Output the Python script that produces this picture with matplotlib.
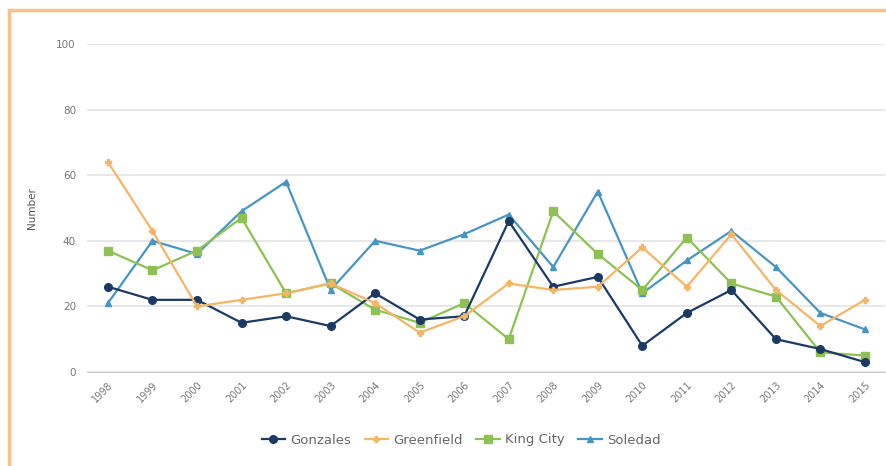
import matplotlib
matplotlib.use("Agg")
import matplotlib.pyplot as plt
from matplotlib.patches import Rectangle
from matplotlib.lines import Line2D

years = list(range(1998, 2016))
gonzales = [26, 22, 22, 15, 17, 14, 24, 16, 17, 46, 26, 29, 8, 18, 25, 10, 7, 3]
greenfield = [64, 43, 20, 22, 24, 27, 21, 12, 17, 27, 25, 26, 38, 26, 42, 25, 14, 22]
king_city = [37, 31, 37, 47, 24, 27, 19, 15, 21, 10, 49, 36, 25, 41, 27, 23, 6, 5]
soledad = [21, 40, 36, 49, 58, 25, 40, 37, 42, 48, 32, 55, 24, 34, 43, 32, 18, 13]
series_names = ["Gonzales", "Greenfield", "King City", "Soledad"]
y_ticks = [0, 20, 40, 60, 80, 100]

colors = ["#1b3a66", "#f5b565", "#8dc153", "#4596c4"]
markers = ["o", "P", "s", "^"]
msizes = [5.5, 4, 5.5, 5]

fig = plt.figure(figsize=(8.87, 4.66), dpi=100)
ax = fig.add_axes([87/887, 1-372/466, (885-87)/887, (372-44)/466])

data = [gonzales, greenfield, king_city, soledad]
zorders = [3, 4, 2, 1]
for name, vals, c, m, ms, z in zip(series_names, data, colors, markers, msizes, zorders):
    ax.plot(years, vals, color=c, marker=m, markersize=ms, linewidth=1.6,
            label=name, zorder=z + 2)

ax.set_xlim(1997.53, 2015.45)
ax.set_ylim(0, 100)
ax.set_yticks(y_ticks)
ax.set_xticks(years)
ax.set_xticklabels([str(y) for y in years], rotation=45, ha="right",
                   rotation_mode="anchor", fontsize=7, color="#777777")
ax.tick_params(axis="y", labelsize=7.5, colors="#777777", length=0, pad=8)
ax.tick_params(axis="x", length=0, pad=6)
ax.grid(axis="y", color="#e3e3e3", linewidth=1.2)
ax.set_axisbelow(True)
for s in ["top", "right", "left"]:
    ax.spines[s].set_visible(False)
ax.spines["bottom"].set_color("#cccccc")
ax.set_ylabel("Number", fontsize=7.5, color="#555555", labelpad=14)

handles = [Line2D([0], [0], color=c, marker=m, markersize=ms, linewidth=1.6)
           for c, m, ms in zip(colors, markers, msizes)]
fig.legend(handles, series_names, loc="center", bbox_to_anchor=(0.52, 1-440/466),
           ncol=4, frameon=False, fontsize=9.5, handlelength=1.8,
           columnspacing=1.0, handletextpad=0.4, labelcolor="#666666")

rect = Rectangle((9/887, -0.05), 1.1, 1 - 10/466 + 0.05, transform=fig.transFigure,
                 fill=False, edgecolor="#fbbf8c", linewidth=2.5, clip_on=False)
fig.patches.append(rect)

fig.savefig("out.png", dpi=100)
